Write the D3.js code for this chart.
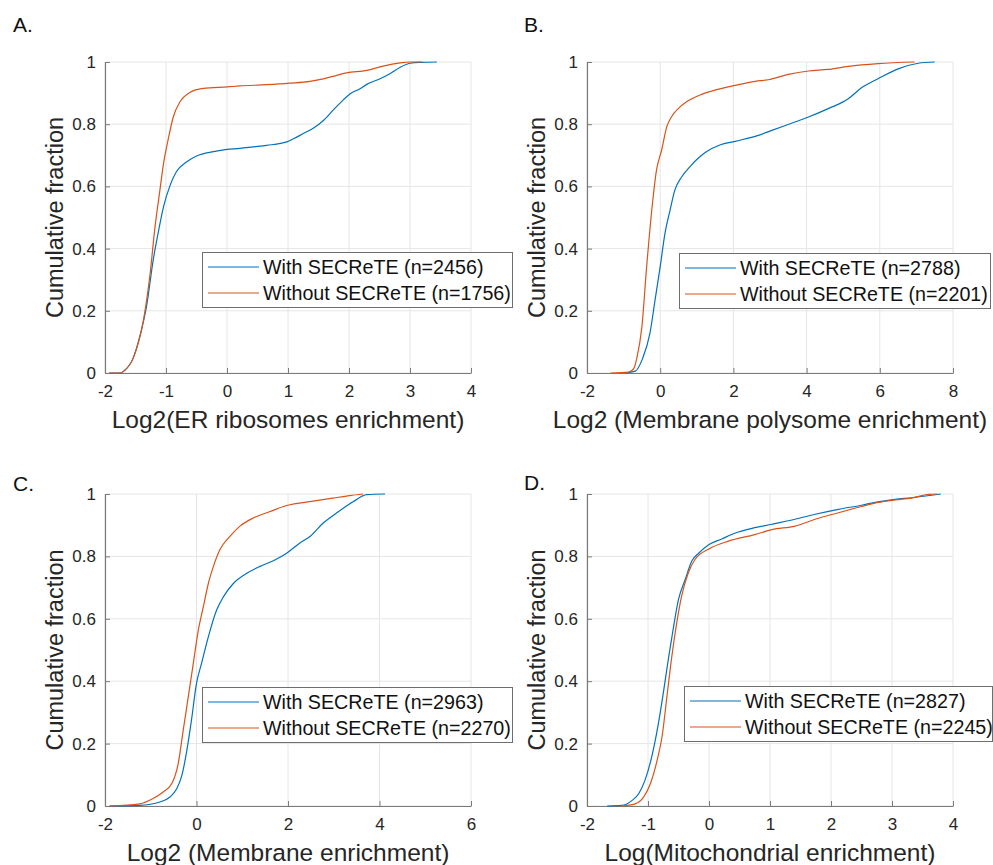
<!DOCTYPE html>
<html>
<head>
<meta charset="utf-8">
<script src="https://cdn.jsdelivr.net/npm/d3@7"></script>
<style>
  body { margin: 0; background: #fff; }
  svg { font-family: "Liberation Sans", Arial, sans-serif; }
</style>
</head>
<body>
<div id="chart"></div>
<script>
// Cumulative fraction curves, as [value, fraction] pairs

// A. ER ribosomes
const erWith = [[-1.93,0],[-1.75,0],[-1.68,0.008],[-1.54,0.047],[-1.43,0.117],[-1.32,0.213],[-1.21,0.363],[-1.13,0.449],[-1.04,0.535],[-0.93,0.605],[-0.83,0.647],[-0.66,0.679],[-0.5,0.698],[-0.22,0.712],[0,0.719],[0.21,0.722],[0.43,0.727],[0.65,0.732],[0.98,0.743],[1.09,0.753],[1.25,0.77],[1.42,0.788],[1.58,0.812],[1.74,0.845],[1.91,0.879],[2.02,0.898],[2.18,0.914],[2.29,0.928],[2.51,0.946],[2.67,0.962],[2.84,0.983],[3.0,0.996],[3.16,0.999],[3.44,1]];
const erWithout = [[-1.93,0],[-1.75,0],[-1.68,0.008],[-1.54,0.047],[-1.37,0.17],[-1.26,0.32],[-1.18,0.47],[-1.1,0.588],[-1.04,0.674],[-0.96,0.755],[-0.88,0.824],[-0.77,0.872],[-0.61,0.902],[-0.39,0.915],[0,0.92],[0.21,0.923],[0.65,0.927],[1.03,0.932],[1.36,0.938],[1.58,0.946],[1.74,0.954],[1.96,0.965],[2.29,0.973],[2.56,0.987],[2.84,0.997],[3.0,1],[3.2,1]];

// B. Membrane polysome
const polyWith = [[-0.95,0],[-0.68,0.006],[-0.48,0.047],[-0.28,0.128],[-0.14,0.235],[0,0.342],[0.13,0.449],[0.27,0.524],[0.4,0.588],[0.59,0.631],[0.81,0.663],[1.09,0.696],[1.27,0.712],[1.63,0.733],[2.05,0.745],[2.68,0.764],[3.05,0.78],[3.68,0.807],[4.05,0.823],[4.59,0.85],[5.14,0.882],[5.5,0.917],[5.95,0.946],[6.5,0.978],[7.05,0.996],[7.5,1]];
const polyWithout = [[-1.36,0],[-0.86,0.003],[-0.72,0.015],[-0.64,0.047],[-0.5,0.149],[-0.37,0.342],[-0.23,0.524],[-0.1,0.653],[0.04,0.717],[0.18,0.792],[0.31,0.824],[0.5,0.851],[0.72,0.872],[1.09,0.894],[1.45,0.908],[2.05,0.925],[2.59,0.938],[2.95,0.943],[3.5,0.96],[4.05,0.971],[4.59,0.976],[5.14,0.986],[5.95,0.995],[6.95,1]];

// C. Membrane
const memWith = [[-1.9,0],[-1.24,0.002],[-0.8,0.013],[-0.58,0.029],[-0.43,0.056],[-0.32,0.098],[-0.21,0.179],[-0.11,0.275],[0,0.393],[0.11,0.457],[0.26,0.543],[0.44,0.628],[0.59,0.671],[0.81,0.714],[1.1,0.746],[1.39,0.768],[1.68,0.786],[1.97,0.81],[2.26,0.843],[2.48,0.864],[2.77,0.907],[3.06,0.939],[3.43,0.976],[3.72,0.998],[4.12,1]];
const memWithout = [[-1.9,0],[-1.24,0.007],[-0.95,0.024],[-0.73,0.045],[-0.54,0.072],[-0.4,0.136],[-0.29,0.243],[-0.18,0.35],[-0.07,0.457],[0.04,0.564],[0.15,0.639],[0.26,0.714],[0.37,0.768],[0.51,0.821],[0.73,0.864],[0.95,0.897],[1.24,0.923],[1.61,0.944],[1.97,0.963],[2.55,0.977],[2.99,0.987],[3.35,0.995],[3.64,1]];

// D. Mitochondrial
const mitoWith = [[-1.67,0],[-1.43,0.002],[-1.26,0.018],[-1.15,0.04],[-1.05,0.082],[-0.94,0.157],[-0.83,0.264],[-0.75,0.361],[-0.66,0.479],[-0.58,0.576],[-0.5,0.662],[-0.39,0.726],[-0.28,0.786],[-0.17,0.81],[0,0.838],[0.21,0.856],[0.43,0.875],[0.75,0.892],[1.03,0.903],[1.41,0.919],[1.74,0.935],[2.12,0.951],[2.5,0.964],[2.77,0.975],[3.05,0.983],[3.32,0.988],[3.8,1]];
const mitoWithout = [[-1.45,0],[-1.21,0.007],[-1.07,0.029],[-0.96,0.072],[-0.85,0.147],[-0.77,0.222],[-0.69,0.35],[-0.61,0.479],[-0.53,0.586],[-0.45,0.672],[-0.34,0.747],[-0.23,0.79],[0,0.824],[0.32,0.849],[0.75,0.87],[1.03,0.886],[1.41,0.897],[1.74,0.919],[2.12,0.94],[2.5,0.96],[2.77,0.973],[3.05,0.981],[3.32,0.987],[3.6,0.999],[3.74,1]];

const yTicks = [0, 0.2, 0.4, 0.6, 0.8, 1];
const seriesNames = ["With SECReTE", "Without SECReTE"];
const colors = ["#0072BD", "#D95319"];

const panels = [
  { letter: "A.", xDomain: [-2, 4], xTicks: [-2, -1, 0, 1, 2, 3, 4], xLabel: "Log2(ER ribosomes enrichment)",
    n: [2456, 1756], data: [erWith, erWithout], letterPos: [13, 32],
    box: { left: 105, top: 62, right: 471, bottom: 373 }, legend: { x: 202, y: 252, w: 311 } },
  { letter: "B.", xDomain: [-2, 8], xTicks: [-2, 0, 2, 4, 6, 8], xLabel: "Log2 (Membrane polysome enrichment)",
    n: [2788, 2201], data: [polyWith, polyWithout], letterPos: [524, 32],
    box: { left: 587, top: 62, right: 953, bottom: 373 }, legend: { x: 679, y: 253, w: 312 } },
  { letter: "C.", xDomain: [-2, 6], xTicks: [-2, 0, 2, 4, 6], xLabel: "Log2 (Membrane enrichment)",
    n: [2963, 2270], data: [memWith, memWithout], letterPos: [13, 491],
    box: { left: 105, top: 494, right: 471, bottom: 806 }, legend: { x: 202, y: 687, w: 311 } },
  { letter: "D.", xDomain: [-2, 4], xTicks: [-2, -1, 0, 1, 2, 3, 4], xLabel: "Log(Mitochondrial enrichment)",
    n: [2827, 2245], data: [mitoWith, mitoWithout], letterPos: [524, 490],
    box: { left: 587, top: 494, right: 953, bottom: 806 }, legend: { x: 684, y: 686, w: 309 } }
];

const svg = d3.select("#chart").append("svg")
  .attr("width", 993)
  .attr("height", 865);

svg.append("rect").attr("width", 993).attr("height", 865).attr("fill", "#fff");

const axisColor = "#7a7a7a";
const textColor = "#262626";
const gridColor = "#e6e6e6";

panels.forEach(p => {
  const b = p.box;
  const w = b.right - b.left;
  const h = b.bottom - b.top;

  const x = d3.scaleLinear().domain(p.xDomain).range([0, w]);
  const y = d3.scaleLinear().domain([0, 1]).range([h, 0]);

  // panel letter
  svg.append("text")
    .attr("x", p.letterPos[0])
    .attr("y", p.letterPos[1])
    .attr("font-size", 21)
    .attr("fill", "#111")
    .text(p.letter);

  const g = svg.append("g").attr("transform", `translate(${b.left},${b.top})`);

  // grid
  g.append("g").selectAll("line")
    .data(p.xTicks)
    .join("line")
    .attr("x1", d => x(d)).attr("x2", d => x(d))
    .attr("y1", 0).attr("y2", h)
    .attr("stroke", gridColor).attr("stroke-width", 1);

  g.append("g").selectAll("line")
    .data(yTicks)
    .join("line")
    .attr("x1", 0).attr("x2", w)
    .attr("y1", d => y(d)).attr("y2", d => y(d))
    .attr("stroke", gridColor).attr("stroke-width", 1);

  // axes with inward ticks
  const xAxis = g.append("g")
    .attr("transform", `translate(0,${h})`)
    .call(d3.axisBottom(x).tickValues(p.xTicks).tickFormat(d => String(d))
      .tickSizeInner(-5).tickSizeOuter(0).tickPadding(12));

  const yAxis = g.append("g")
    .call(d3.axisLeft(y).tickValues(yTicks).tickFormat(d => String(d))
      .tickSizeInner(-5).tickSizeOuter(0).tickPadding(9));

  [xAxis, yAxis].forEach(a => {
    a.select(".domain").attr("stroke", axisColor).attr("stroke-width", 1.2);
    a.selectAll(".tick line").attr("stroke", axisColor).attr("stroke-width", 1);
    a.selectAll(".tick text")
      .attr("fill", textColor)
      .attr("font-size", 17)
      .attr("font-family", "'Liberation Sans', Arial, sans-serif");
  });

  // curves
  const line = d3.line()
    .x(d => x(d[0]))
    .y(d => y(d[1]))
    .curve(d3.curveMonotoneX);

  p.data.forEach((s, i) => {
    g.append("path")
      .datum(s)
      .attr("fill", "none")
      .attr("stroke", colors[i])
      .attr("stroke-width", 1.2)
      .attr("d", line);
  });

  // axis labels
  svg.append("text")
    .attr("transform", `translate(${b.left - 42},${b.top + h / 2}) rotate(-90)`)
    .attr("text-anchor", "middle")
    .attr("font-size", 23.5)
    .attr("fill", textColor)
    .text("Cumulative fraction");

  svg.append("text")
    .attr("x", b.left + w / 2)
    .attr("y", b.bottom + 55)
    .attr("text-anchor", "middle")
    .attr("font-size", 24.5)
    .attr("fill", textColor)
    .text(p.xLabel);

  // legend
  const lg = svg.append("g").attr("transform", `translate(${p.legend.x},${p.legend.y})`);
  lg.append("rect")
    .attr("x", 0.5).attr("y", 0.5)
    .attr("width", p.legend.w - 1).attr("height", 55)
    .attr("fill", "#fff")
    .attr("stroke", "#6e6e6e")
    .attr("stroke-width", 1);

  seriesNames.forEach((name, i) => {
    const ry = 15 + i * 26;
    lg.append("line")
      .attr("x1", 6).attr("x2", 57)
      .attr("y1", ry).attr("y2", ry)
      .attr("stroke", colors[i])
      .attr("stroke-width", 1.2);
    lg.append("text")
      .attr("x", 61)
      .attr("y", ry)
      .attr("dy", "0.36em")
      .attr("font-size", 19.7)
      .attr("fill", "#111")
      .text(`${name} (n=${p.n[i]})`);
  });
});
</script>
</body>
</html>
